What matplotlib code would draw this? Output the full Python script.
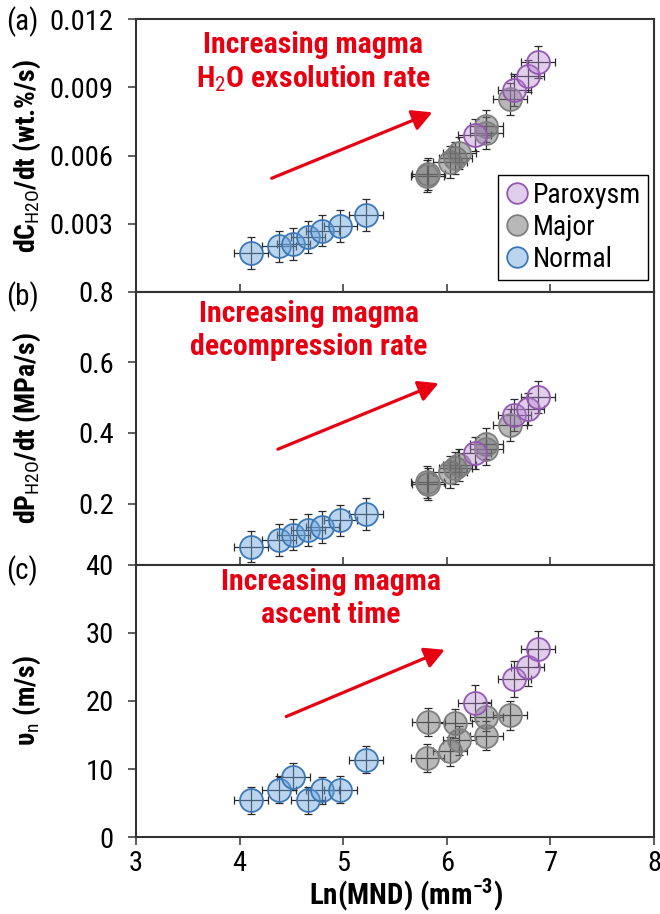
import matplotlib
matplotlib.use("Agg")
import matplotlib.pyplot as plt

FONT = "Roboto Condensed"
plt.rcParams["font.family"] = [FONT, "DejaVu Sans"]
plt.rcParams["mathtext.fontset"] = "custom"
plt.rcParams["mathtext.rm"] = FONT
plt.rcParams["mathtext.bf"] = FONT + ":bold"
plt.rcParams["mathtext.it"] = FONT + ":italic"

# Ln(MND) per eruption type (shared by all panels)
mnd_normal = [4.11, 4.38, 4.52, 4.66, 4.80, 4.97, 5.22]
mnd_major = [5.82, 5.81, 6.03, 6.08, 6.12, 6.38, 6.38, 6.61]
mnd_parox = [6.27, 6.65, 6.78, 6.88]
mnd_err = 0.16

# (a) H2O exsolution rate (wt.%/s)
dc_normal = [0.0017, 0.0020, 0.0021, 0.0024, 0.0027, 0.0029, 0.0034]
dc_major = [0.0052, 0.0051, 0.0057, 0.0059, 0.0061, 0.0073, 0.0070, 0.0085]
dc_parox = [0.0069, 0.0089, 0.0095, 0.0101]
dc_err = 0.0007

# (b) decompression rate (MPa/s)
dp_normal = [0.078, 0.097, 0.112, 0.124, 0.133, 0.152, 0.171]
dp_major = [0.255, 0.262, 0.290, 0.300, 0.310, 0.370, 0.355, 0.422]
dp_parox = [0.343, 0.450, 0.469, 0.503]
dp_err = 0.045

# (c) ascent velocity (m/s)
v_normal = [5.4, 7.0, 8.9, 5.4, 6.9, 7.0, 11.4]
v_major = [16.9, 11.6, 12.6, 16.7, 14.2, 17.7, 14.9, 17.9]
v_parox = [19.7, 23.2, 24.9, 27.6]
v_err = {"Normal": 2.0, "Major": 2.1, "Paroxysm": 2.7}

RED = "#e60012"
STYLE = {
    "Normal": dict(mfc=(0.42, 0.64, 0.86, 0.45), mec="#3b78b8"),
    "Major": dict(mfc=(0.45, 0.45, 0.45, 0.5), mec="#7f7f7f"),
    "Paroxysm": dict(mfc=(0.70, 0.52, 0.80, 0.4), mec="#9457b4"),
}

panels = [
    dict(ys={"Normal": dc_normal, "Major": dc_major, "Paroxysm": dc_parox},
         err={"Normal": dc_err, "Major": dc_err, "Paroxysm": dc_err},
         ylim=(0, 0.012), yticks=[0.003, 0.006, 0.009, 0.012],
         fmt="{:.3f}", ylabel=r"dC$_{\rm H2O}$/dt (wt.%/s)", tag="(a)",
         text="Increasing magma\nH$_{\\rm 2}$O exsolution rate", tx=4.71, ty=0.0101,
         arrow=((4.31, 0.0050), (5.86, 0.0079))),
    dict(ys={"Normal": dp_normal, "Major": dp_major, "Paroxysm": dp_parox},
         err={"Normal": dp_err, "Major": dp_err, "Paroxysm": dp_err},
         ylim=(0.027, 0.8), yticks=[0.2, 0.4, 0.6, 0.8],
         fmt="{:.1f}", ylabel=r"dP$_{\rm H2O}$/dt (MPa/s)", tag="(b)",
         text="Increasing magma\ndecompression rate", tx=4.67, ty=0.69,
         arrow=((4.37, 0.354), (5.92, 0.541))),
    dict(ys={"Normal": v_normal, "Major": v_major, "Paroxysm": v_parox},
         err=v_err,
         ylim=(0, 40), yticks=[0, 10, 20, 30, 40],
         fmt="{:.0f}", ylabel=r"υ$_{\rm n}$ (m/s)", tag="(c)",
         text="Increasing magma\nascent time", tx=4.88, ty=35.0,
         arrow=((4.45, 17.7), (5.98, 27.5))),
]
xs = {"Normal": mnd_normal, "Major": mnd_major, "Paroxysm": mnd_parox}

fig, axes = plt.subplots(3, 1, figsize=(6.6, 9.14), dpi=100, sharex=True,
                         gridspec_kw={"hspace": 0})
fig.subplots_adjust(left=0.206, right=0.991, top=0.979, bottom=0.084)

tag_y = [22, 297, 571]
for i, (ax, p) in enumerate(zip(axes, panels)):
    handles = {}
    for name in ["Normal", "Major", "Paroxysm"]:
        ax.errorbar(xs[name], p["ys"][name], xerr=mnd_err, yerr=p["err"][name],
                    fmt="none", ecolor="#2b2b2b", elinewidth=0.9, capsize=3,
                    capthick=0.9, zorder=2)
        h, = ax.plot(xs[name], p["ys"][name], "o", ms=16.5, mew=1.3,
                     zorder=3, **STYLE[name])
        handles[name] = h
    ax.set_ylim(*p["ylim"])
    ax.set_yticks(p["yticks"])
    ax.set_yticklabels([p["fmt"].format(t) for t in p["yticks"]])
    ax.set_ylabel(p["ylabel"], fontsize=20, fontweight="bold")
    ax.yaxis.set_label_coords(-0.18, 0.5)
    ax.text(p["tx"], p["ty"], p["text"], color=RED, fontsize=21.5,
            fontweight="bold", ha="center", va="center", linespacing=1.2)
    (x0, y0), (x1, y1) = p["arrow"]
    ax.annotate("", xy=(x1, y1), xytext=(x0, y0),
                arrowprops=dict(arrowstyle="-|>,head_length=0.6,head_width=0.32",
                                color=RED, lw=2.3, mutation_scale=20,
                                shrinkA=0, shrinkB=0))
    for s in ax.spines.values():
        s.set_linewidth(1.5)
        s.set_color("#333333")
    ax.tick_params(axis="y", direction="out", length=6, width=1.1,
                   labelsize=20.5, pad=10, color="#333333")
    ax.tick_params(axis="x", direction="in" if i < 2 else "out", length=6,
                   width=1.1, labelsize=20.5, pad=3, color="#333333")
    fig.text(22 / 660, 1 - tag_y[i] / 914, p["tag"], fontsize=21,
             ha="center", va="center")
    if i == 0:
        ax.legend([handles["Paroxysm"], handles["Major"], handles["Normal"]],
                  ["Paroxysm", "Major", "Normal"], loc="lower right",
                  bbox_to_anchor=(0.988, 0.044), borderaxespad=0,
                  fontsize=20, fancybox=False, edgecolor="black",
                  framealpha=1, markerscale=0.9, handletextpad=0.1,
                  handlelength=0.9, borderpad=0.25, labelspacing=0.18)
        ax.get_legend().get_frame().set_linewidth(1.0)

axes[-1].set_xlim(3, 8)
axes[-1].set_xticks([3, 4, 5, 6, 7, 8])
axes[-1].set_xlabel(r"Ln(MND) (mm$^{\mathbf{-3}}$)", fontsize=21,
                    fontweight="bold")
axes[-1].xaxis.set_label_coords(0.521, -0.145)
fig.align_ylabels(axes)

fig.savefig("out.png", dpi=100)
